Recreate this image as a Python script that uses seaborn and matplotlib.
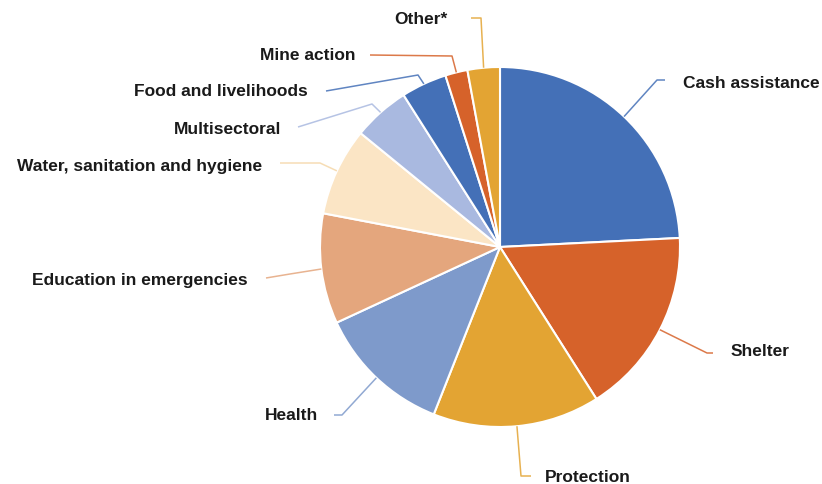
import numpy as np
import matplotlib
matplotlib.use("Agg")
from matplotlib import pyplot as plt
import seaborn as sns

# sector shares (%), clockwise from 12 o'clock
sectors = ["Cash assistance", "Shelter", "Protection", "Health",
           "Education in emergencies", "Water, sanitation and hygiene",
           "Multisectoral", "Food and livelihoods", "Mine action", "Other*"]
shares = [24.2, 16.8, 15.0, 12.1, 9.9, 7.9, 5.1, 4.1, 2.0, 2.9]
colours = ["#4470B7", "#D6622A", "#E3A433", "#7E9ACB", "#E4A67D",
           "#FBE5C5", "#A9B9E0", "#4470B7", "#D6622A", "#E3A433"]

# label layout in pixel coords (y from top): elbow, line end, text anchor, alignment
layout = {
    "Cash assistance": ((657, 80), (665, 80), (683, 83), "left"),
    "Shelter": ((707, 353), (713, 353), (731, 352), "left"),
    "Protection": ((521, 476), (531, 476), (545, 478), "left"),
    "Health": ((342, 415), (334, 415), (318, 415), "right"),
    "Education in emergencies": ((290, 274), (266, 278), (248, 280), "right"),
    "Water, sanitation and hygiene": ((320, 163), (280, 163), (262, 167), "right"),
    "Multisectoral": ((372, 104), (298, 127), (281, 129), "right"),
    "Food and livelihoods": ((418, 75), (326, 91), (308, 92), "right"),
    "Mine action": ((452, 56), (370, 55), (355, 55), "right"),
    "Other*": ((481, 18), (471, 18), (447, 20), "right"),
}

H = 484
sns.set_theme(style="white")
plt.rcParams['font.family'] = ['Liberation Sans', 'DejaVu Sans']

fig = plt.figure(figsize=(8.22, 4.84), dpi=100)
ax = fig.add_axes([0, 0, 1, 1])
cx, cy, r = 500, H - 247, 180

wedges, _ = ax.pie(shares, colors=colours, startangle=90, counterclock=False,
                   center=(cx, cy), radius=r,
                   wedgeprops=dict(edgecolor="white", linewidth=1.5))

for w, name, col in zip(wedges, sectors, colours):
    mid = np.deg2rad((w.theta1 + w.theta2) / 2)
    ex, ey = cx + r * np.cos(mid), cy + r * np.sin(mid)
    elbow, end, txt, ha = layout[name]
    line_col = col if col != "#FBE5C5" else "#F5D7A8"
    ax.plot([ex, elbow[0], end[0]], [ey, H - elbow[1], H - end[1]],
            color=line_col, lw=1.1, alpha=0.85, solid_capstyle="butt")
    ax.text(txt[0], H - txt[1], name, ha=ha, va="center",
            fontsize=12.5, fontweight="bold", color="#1a1a1a")

ax.set_xlim(0, 822)
ax.set_ylim(0, H)
ax.set_aspect("equal")
ax.axis("off")
fig.savefig("out.png", dpi=100, facecolor="white")
